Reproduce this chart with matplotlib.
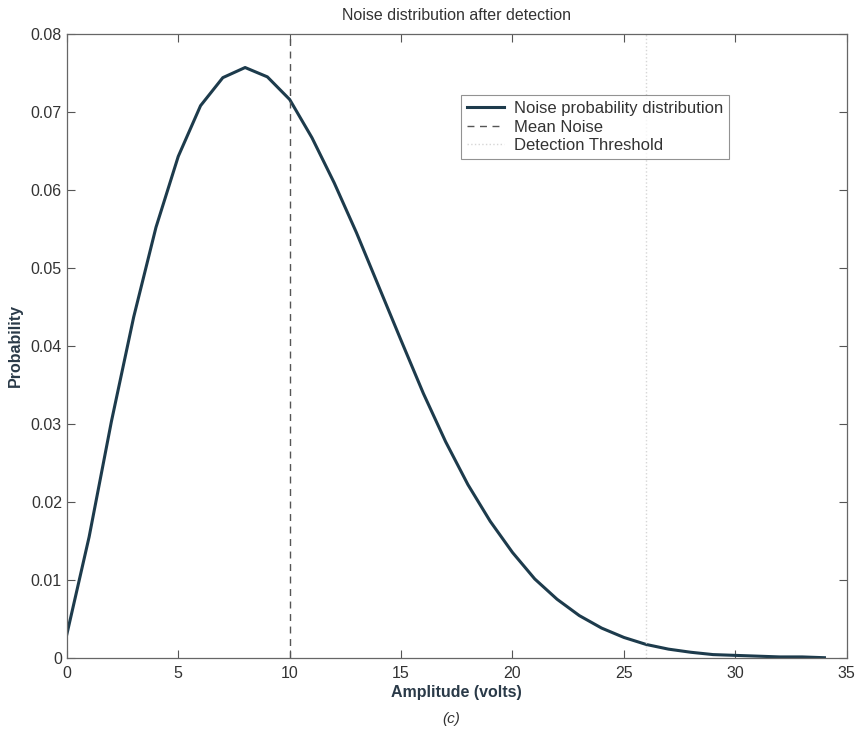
import matplotlib
matplotlib.use('Agg')
import matplotlib.pyplot as plt

plt.rcParams['font.family'] = ['Liberation Sans', 'DejaVu Sans']

# Values (amplitude in volts, probability)
amplitude = list(range(0, 35))
probability = [0.0030, 0.0155, 0.0303, 0.0437, 0.0552, 0.0643, 0.0708, 0.0744,
               0.0757, 0.0745, 0.0716, 0.0667, 0.0609, 0.0545, 0.0476, 0.0407,
               0.0339, 0.0277, 0.0222, 0.0175, 0.0135, 0.0101, 0.0075, 0.0054,
               0.0038, 0.0026, 0.0017, 0.0011, 0.0007, 0.0004, 0.0003, 0.0002,
               0.0001, 0.0001, 0.0000]
mean_noise = 10
threshold = 26

fig = plt.figure(figsize=(8.57, 7.39), dpi=100)
ax = fig.add_axes([0.078, 0.110, 0.910, 0.844])

ax.plot(amplitude, probability, color='#1d3b4c', lw=2.2,
        label='Noise probability distribution')
ax.axvline(mean_noise, color='#555555', lw=1.0, ls=(0, (5, 4)), label='Mean Noise')
ax.axvline(threshold, color='#d6d6d6', lw=1.0, ls=':', label='Detection Threshold')

ax.set_xlim(0, 35)
ax.set_ylim(0, 0.08)
ax.set_xticks(range(0, 36, 5))
ax.set_yticks([0, 0.01, 0.02, 0.03, 0.04, 0.05, 0.06, 0.07, 0.08])
ax.set_yticklabels(['0', '0.01', '0.02', '0.03', '0.04', '0.05', '0.06', '0.07', '0.08'])
ax.tick_params(direction='in', top=True, right=True, length=6, labelsize=11.5,
               color='#555555', labelcolor='#333333')
ax.tick_params(axis='x', pad=6)
for s in ax.spines.values():
    s.set_color('#666666')
    s.set_linewidth(0.9)

ax.set_title('Noise distribution after detection', fontsize=11.5, color='#333333', pad=10)
ax.set_xlabel('Amplitude (volts)', fontsize=11.5, fontweight='bold', color='#2a3a48', labelpad=3)
ax.set_ylabel('Probability', fontsize=11.5, fontweight='bold', color='#2a3a48', labelpad=6)

leg = ax.legend(loc='upper left', bbox_to_anchor=(0.495, 0.915), fontsize=12,
                frameon=True, fancybox=False, edgecolor='#777777', handlelength=2.2,
                borderpad=0.35, labelspacing=0.2, handletextpad=0.6)
leg.get_frame().set_linewidth(0.8)
for t in leg.get_texts():
    t.set_color('#333333')

fig.text(0.527, 0.022, '(c)', fontsize=11, style='italic', color='#333333', ha='center')

fig.savefig('out.png', dpi=100)
